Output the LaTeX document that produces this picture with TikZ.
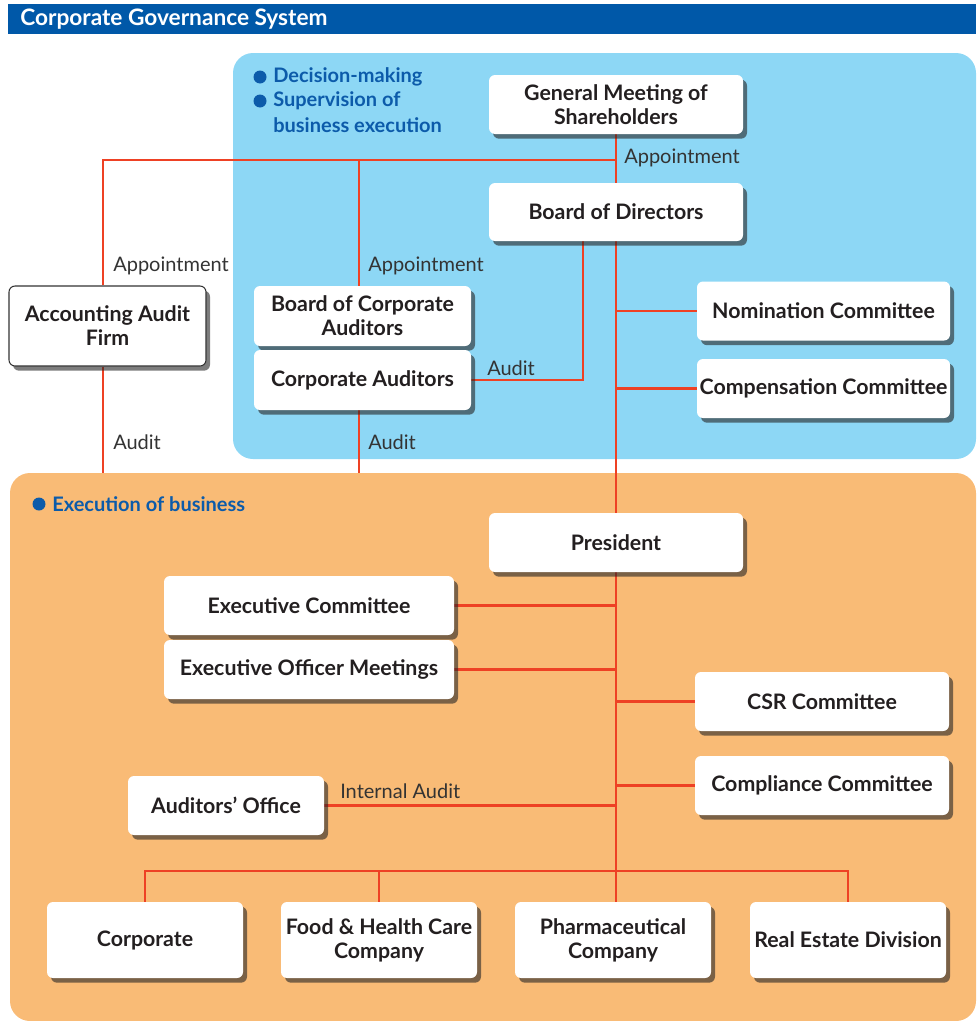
\documentclass[tikz,border=0pt]{standalone}
\usepackage{fontspec}
\setmainfont{Lato}
\usetikzlibrary{shadows}
\definecolor{hdrblue}{HTML}{0058A8}
\definecolor{skyfill}{HTML}{8DD7F5}
\definecolor{orangefill}{HTML}{F9BB76}
\definecolor{redline}{HTML}{EE4124}
\definecolor{bullblue}{HTML}{0C5BAA}
\definecolor{boxtext}{HTML}{231F20}
\definecolor{lbltext}{HTML}{333333}
\pgfdeclarelayer{bg}
\pgfdeclarelayer{lines}
\pgfsetlayers{bg,lines,main}
\tikzset{
  orgbox/.style={fill=white, rounded corners=4.5pt, inner sep=1pt, align=center,
    font=\bfseries\fontsize{16}{18}\selectfont, text=boxtext,
    drop shadow={opacity=0.6, fill=black!85, shadow xshift=3pt, shadow yshift=-3.5pt}},
  conn/.style={draw=redline, line width=1.9pt},
  lbl/.style={inner sep=0pt, anchor=west, font=\fontsize{15}{18}\selectfont, text=lbltext},
  headtxt/.style={inner sep=0pt, anchor=west, font=\bfseries\fontsize{15}{18}\selectfont, text=bullblue},
}
\begin{document}
\begin{tikzpicture}[x=0.75pt,y=-0.75pt]
\useasboundingbox (0,0) rectangle (976,1021);
\begin{pgfonlayer}{bg}
% header
\fill[hdrblue] (8,4) rectangle (976,34);
% regions
\fill[skyfill, rounded corners=15pt] (233,53) rectangle (976,459);
\fill[orangefill, rounded corners=15pt] (10,473) rectangle (976,1021);
\end{pgfonlayer}
\node[inner sep=0pt, anchor=west, text=white, font=\bfseries\fontsize{17}{19}\selectfont] (title) at (20,19) {Corporate Governance System};
% region headings
\fill[bullblue] (260,77) circle (6.5);
\fill[bullblue] (260,101) circle (6.5);
\node[headtxt] (h1) at (273,77) {Decision-making};
\node[headtxt] (h2) at (273,101) {Supervision of};
\node[headtxt] (h3) at (273,125) {business execution};
\fill[bullblue] (39,504) circle (6.5);
\node[headtxt] (h4) at (52,504) {Execution of business};
% coordinates
\coordinate (ap) at (616,160);
\coordinate (la) at (103,160);
\coordinate (lb) at (359,160);
\coordinate (ot) at (0,473);
\coordinate (ax) at (583,0);
\coordinate (bus) at (616,871);
% boxes
\node[orgbox, minimum width=254*0.75pt, minimum height=59*0.75pt] (gms) at (616,104.5) {General Meeting of\\Shareholders};
\node[orgbox, minimum width=254*0.75pt, minimum height=58*0.75pt] (bod) at (616,212) {Board of Directors};
\node[orgbox, draw=black!80, line width=0.8pt, minimum width=197*0.75pt, minimum height=80*0.75pt] (aaf) at (107.5,326) {Accounting Audit\\Firm};
\node[orgbox, minimum width=217*0.75pt, minimum height=60*0.75pt] (bca) at (362.5,316) {Board of Corporate\\Auditors};
\node[orgbox, minimum width=217*0.75pt, minimum height=60*0.75pt] (ca) at (362.5,380) {Corporate Auditors};
\node[orgbox, minimum width=253*0.75pt, minimum height=59*0.75pt] (nom) at (823.5,311) {Nomination Committee};
\node[orgbox, minimum width=253*0.75pt, minimum height=59*0.75pt] (comp) at (823.5,388.5) {Compensation Committee};
\node[orgbox, minimum width=254*0.75pt, minimum height=59*0.75pt] (pres) at (616,542.5) {President};
\node[orgbox, minimum width=290*0.75pt, minimum height=59*0.75pt] (exc) at (309,605.5) {Executive Committee};
\node[orgbox, minimum width=290*0.75pt, minimum height=59*0.75pt] (eom) at (309,669.5) {Executive Officer Meetings};
\node[orgbox, minimum width=254*0.75pt, minimum height=59*0.75pt] (csr) at (822,701.5) {CSR Committee};
\node[orgbox, minimum width=254*0.75pt, minimum height=59*0.75pt] (compl) at (822,785.5) {Compliance Committee};
\node[orgbox, minimum width=196*0.75pt, minimum height=59*0.75pt] (ao) at (226,805.5) {Auditors’ Office};
\node[orgbox, minimum width=196*0.75pt, minimum height=76*0.75pt] (corp) at (145,940) {Corporate};
\node[orgbox, minimum width=196*0.75pt, minimum height=76*0.75pt] (food) at (379,940) {Food \& Health Care\\Company};
\node[orgbox, minimum width=196*0.75pt, minimum height=76*0.75pt] (pharm) at (613,940) {Pharmaceutical\\Company};
\node[orgbox, minimum width=196*0.75pt, minimum height=76*0.75pt] (real) at (848,940) {Real Estate Division};
% connectors
\begin{pgfonlayer}{lines}
\draw[conn] (gms.south) -- (bod.north);
\draw[conn] (la |- aaf.north) -- (la) -- (ap);
\draw[conn] (lb) -- (lb |- bca.north);
\draw[conn] (la |- aaf.south) -- (la |- ot);
\draw[conn] (lb |- ca.south) -- (lb |- ot);
\draw[conn] (ca.east) -| (ax |- bod.south);
\draw[conn] (bod.south) -- (bod.south |- pres.north);
\draw[conn] (nom.west) -- (nom.west -| bod.south);
\draw[conn] (comp.west) -- (comp.west -| bod.south);
\draw[conn] (pres.south) -- (pres.south |- pharm.north);
\draw[conn] (exc.east) -- (exc.east -| pres.south);
\draw[conn] (eom.east) -- (eom.east -| pres.south);
\draw[conn] (csr.west) -- (csr.west -| pres.south);
\draw[conn] (compl.west) -- (compl.west -| pres.south);
\draw[conn] (ao.east) -- (ao.east -| pres.south);
\draw[conn] (corp.north) -- (corp.north |- bus) -- (real.north |- bus) -- (real.north);
\draw[conn] (food.north) -- (food.north |- bus);
\end{pgfonlayer}
% labels
\node[lbl] (l1) at (624,158) {Appointment};
\node[lbl] (l2) at (113,266) {Appointment};
\node[lbl] (l3) at (368,266) {Appointment};
\node[lbl] (l4) at (487,368) {Audit};
\node[lbl] (l5) at (113,442) {Audit};
\node[lbl] (l6) at (368,442) {Audit};
\node[lbl] (l7) at (340,791) {Internal Audit};
\end{tikzpicture}
\end{document}
